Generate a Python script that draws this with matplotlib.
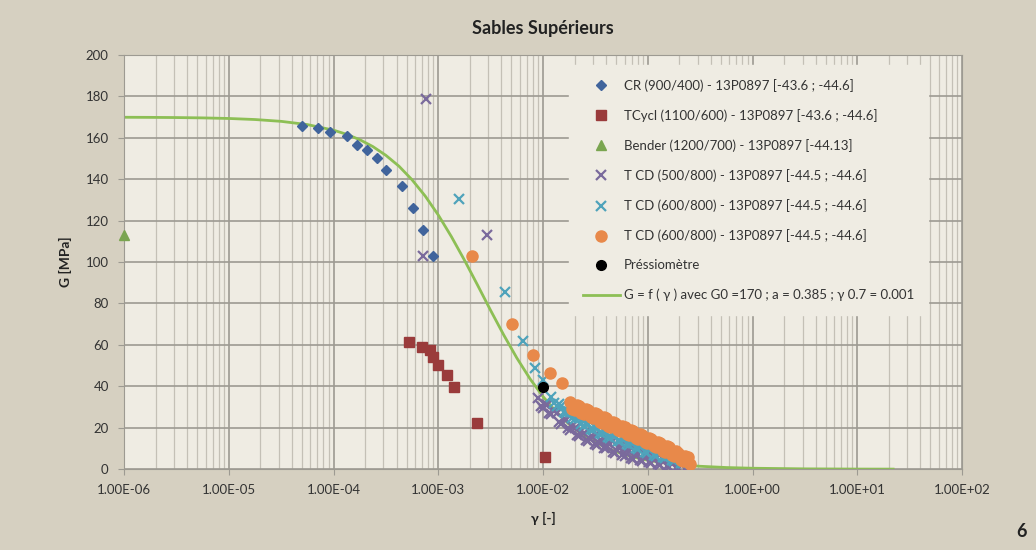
import matplotlib
matplotlib.use('Agg')
import matplotlib.pyplot as plt
from matplotlib.ticker import LogLocator, FuncFormatter, NullFormatter

plt.rcParams['font.family'] = ['Lato', 'DejaVu Sans']

# CR (900/400) - resonant column
cr_gamma = [5.0e-5, 7.1e-5, 9.3e-5, 1.35e-4, 1.67e-4, 2.09e-4, 2.60e-4, 3.17e-4,
            4.51e-4, 5.74e-4, 7.15e-4, 8.9e-4]
cr_g = [165.6, 164.6, 162.7, 160.8, 156.4, 154.0, 150.1, 144.3, 136.6, 125.9, 115.7, 103.1]

# TCycl (1100/600)
tcy_gamma = [5.26e-4, 7.0e-4, 8.3e-4, 8.9e-4, 9.9e-4, 1.21e-3, 1.41e-3, 2.34e-3, 1.04e-2]
tcy_g = [61.5, 59.1, 57.6, 54.2, 50.4, 45.5, 39.7, 22.3, 5.8]

# Bender (1200/700)
bender_gamma = [1.0e-6]
bender_g = [113.3]

# strain steps of the cyclic triaxial tests (two readings per cycle group)
band_gamma = [0.009, 0.010, 0.011, 0.012, 0.0135, 0.015, 0.0165, 0.018, 0.020, 0.022,
              0.0245, 0.027, 0.030, 0.033, 0.0365, 0.040, 0.044, 0.049, 0.054, 0.060,
              0.066, 0.073, 0.080, 0.089, 0.098, 0.108, 0.120, 0.132, 0.146, 0.161,
              0.178, 0.196, 0.217, 0.240]
band_gamma_b = [0.0095, 0.0105, 0.0115, 0.0127, 0.0142, 0.0157, 0.0172, 0.019, 0.021, 0.0232,
                0.0257, 0.0285, 0.0315, 0.035, 0.038, 0.042, 0.0465, 0.0515, 0.057, 0.063,
                0.0695, 0.0765, 0.0845, 0.0935, 0.103, 0.114, 0.126, 0.139, 0.153, 0.169,
                0.187, 0.206, 0.228]

# T CD (500/800)
tcd1_gamma = [7.6e-4, 7.2e-4, 2.92e-3] + band_gamma + band_gamma_b
tcd1_g = [178.7, 103.0, 113.3,
          34.5, 29.5, 31, 26.5, 27, 22, 23.5, 19, 20, 16,
          17.5, 13.5, 15.5, 11.5, 13.5, 10, 12, 8, 10.5, 6.5,
          9, 5, 7.5, 4, 6.5, 3, 5.5, 2, 4.5, 1,
          3.5, 0.5, 2.5, 0.3,
          30.5, 31.7, 27.3, 28.3, 23, 24.3, 19.7, 21, 16.5, 18.3,
          14, 16, 12, 14, 10.3, 12.5, 8.5, 10.7, 7, 9.3,
          5.5, 7.7, 4.3, 6.7, 3.3, 5.7, 2.3, 4.7, 1.3, 3.7,
          0.5, 3, 0.3]

# T CD (600/800) - first
tcd2_gamma = [1.58e-3, 4.34e-3, 6.44e-3, 8.4e-3, 1.0e-2] + band_gamma[3:] + band_gamma_b[3:]
tcd2_g = [130.7, 85.7, 62.0, 49.0, 43.0,
          35, 30.5, 30.5, 27, 27.5, 24, 24.5, 21, 22, 19,
          20, 17, 18, 15, 16, 13.5, 14.5, 11.5, 12.5, 9.5,
          11, 8, 9.5, 6.5, 8, 5.5, 6.5, 4, 5.5, 3, 4.5,
          32, 31.5, 27.8, 28.2, 24.8, 25.2, 21.8, 22.5, 19.5, 20.5,
          17.5, 18.5, 15.5, 16.5, 13.8, 15, 12, 13, 10, 11.2,
          8.5, 9.8, 7, 8.2, 5.8, 7, 4.2, 5.8, 3.2, 4.8]

# T CD (600/800) - second
tcd3_gamma = [2.1e-3, 5.06e-3, 8.0e-3, 1.17e-2, 1.52e-2] + band_gamma[7:] + [0.255] + band_gamma_b[7:]
tcd3_g = [102.7, 70.0, 55.2, 46.5, 41.6,
          32.5, 28.5, 30.5, 26.5, 28.5, 24.5, 26.5, 22.5, 24.5, 20.5,
          22.5, 18.5, 20.5, 16.5, 18.5, 14.5, 16.5, 12.5, 14.5, 10.5,
          12.5, 8.5, 10.5, 6.5, 8, 4, 6, 2.5,
          29, 31, 27, 29, 25, 27, 23, 25, 21, 23,
          19, 21, 17, 19, 15, 17, 13, 15, 11, 13,
          9, 11, 7, 8.7, 4.5, 6.5]

# Pressiometre
pressio_gamma = [1.0e-2]
pressio_g = [39.7]

# G = f(gamma) curve
fit_gamma = [1e-6, 1.78e-6, 3.16e-6, 5.62e-6, 1e-5, 1.78e-5, 3.16e-5, 5.62e-5,
             1e-4, 1.334e-4, 1.78e-4, 2.371e-4, 3.16e-4, 4.217e-4, 5.62e-4, 7.499e-4,
             1e-3, 1.334e-3, 1.78e-3, 2.371e-3, 3.16e-3, 4.217e-3, 5.62e-3, 7.499e-3,
             1e-2, 1.334e-2, 1.78e-2, 2.371e-2, 3.16e-2, 4.217e-2, 5.62e-2, 7.499e-2,
             0.1, 0.1334, 0.178, 0.2371, 0.316, 0.562, 1.0, 3.16, 10.0, 22.0]
fit_g = [169.93, 169.88, 169.79, 169.63, 169.35, 168.84, 167.96, 166.40,
         163.70, 161.7, 159.10, 155.8, 151.55, 146.3, 139.74, 131.9,
         122.74, 112.3, 100.89, 88.9, 76.68, 64.8, 53.71, 43.7,
         35.05, 27.7, 21.66, 16.8, 12.91, 9.87, 7.51, 5.69,
         4.30, 3.25, 2.45, 1.84, 1.39, 0.78, 0.44, 0.14, 0.04, 0.02]

x_ticks = [1e-6, 1e-5, 1e-4, 1e-3, 1e-2, 1e-1, 1e0, 1e1, 1e2]

labels = ['CR (900/400) - 13P0897 [-43.6 ; -44.6]',
          'TCycl (1100/600) - 13P0897 [-43.6 ; -44.6]',
          'Bender (1200/700) - 13P0897 [-44.13]',
          'T CD (500/800) - 13P0897 [-44.5 ; -44.6]',
          'T CD (600/800) - 13P0897 [-44.5 ; -44.6]',
          'T CD (600/800) - 13P0897 [-44.5 ; -44.6]',
          'Préssiomètre',
          'G = f ( γ ) avec G0 =170 ; a = 0.385 ; γ 0.7 = 0.001']

fig = plt.figure(figsize=(10.36, 5.5), dpi=100)
fig.patch.set_facecolor('#d6d0c1')
ax = fig.add_axes([0.1197, 0.147, 0.8089, 0.753])
ax.set_facecolor('#efece3')

# the fit line goes under the markers
ax.plot(fit_gamma, fit_g, color='#8dbf55', lw=2, zorder=2, label=labels[7])

ax.plot(cr_gamma, cr_g, ls='none', marker='D', ms=5.5, color='#40649c', zorder=3, label=labels[0])
ax.plot(tcy_gamma, tcy_g, ls='none', marker='s', ms=7, color='#9a3b3b', zorder=3, label=labels[1])
ax.plot(bender_gamma, bender_g, ls='none', marker='^', ms=7, color='#7aa550', zorder=3,
        clip_on=False, label=labels[2])
ax.plot(tcd1_gamma, tcd1_g, ls='none', marker='x', ms=6.5, mew=1.6, color='#7a6a9c', zorder=3, label=labels[3])
ax.plot(tcd2_gamma, tcd2_g, ls='none', marker='x', ms=6.5, mew=1.6, color='#4fa3bb', zorder=3, label=labels[4])
ax.plot(tcd3_gamma, tcd3_g, ls='none', marker='o', ms=8, color='#e8894a', zorder=3, label=labels[5])
ax.plot(pressio_gamma, pressio_g, ls='none', marker='o', ms=7, color='black', zorder=4, label=labels[6])

ax.set_xscale('log')
ax.set_xlim(1e-6, 1e2)
ax.set_ylim(0, 200)
ax.set_yticks(range(0, 201, 20))
ax.set_xticks(x_ticks)
ax.xaxis.set_minor_locator(LogLocator(base=10, subs=range(2, 10), numticks=100))
ax.xaxis.set_minor_formatter(NullFormatter())
ax.xaxis.set_major_formatter(FuncFormatter(lambda v, p: f'{v:.2E}'))

ax.grid(True, which='major', color='#9d9a92', lw=1.2, zorder=0)
ax.grid(True, which='minor', axis='x', color='#c4c0b6', lw=0.9, zorder=0)
ax.set_axisbelow(True)
for s in ax.spines.values():
    s.set_color('#9d9a92')
ax.tick_params(axis='both', which='major', labelsize=9.5, colors='#9d9a92', labelcolor='#333333',
               length=4, pad=7)
ax.tick_params(axis='x', which='minor', length=0)

ax.set_title('Sables Supérieurs', fontsize=13, fontweight='bold', color='#222222', pad=15)
ax.set_xlabel('γ [-]', fontsize=10, fontweight='bold', color='#222222', labelpad=11)
ax.set_ylabel('G [MPa]', fontsize=10, fontweight='bold', color='#222222', labelpad=10)

# legend order like the original workbook
h, l = ax.get_legend_handles_labels()
order = [1, 2, 3, 4, 5, 6, 7, 0]
leg = ax.legend([h[i] for i in order], [l[i] for i in order], loc='upper left',
                bbox_to_anchor=(0.549, 0.882), bbox_transform=fig.transFigure,
                fontsize=9.5, frameon=True, facecolor='#efece3', edgecolor='#efece3',
                framealpha=1, fancybox=False, borderaxespad=0, borderpad=1.05,
                labelspacing=1.3, handlelength=2.8, handletextpad=0.3, numpoints=1)
for t in leg.get_texts():
    t.set_color('#333333')

fig.text(0.991, 0.018, '6', fontsize=13, fontweight='bold', ha='right', va='bottom', color='#222222')

fig.savefig('out.png', dpi=100, facecolor=fig.get_facecolor())
